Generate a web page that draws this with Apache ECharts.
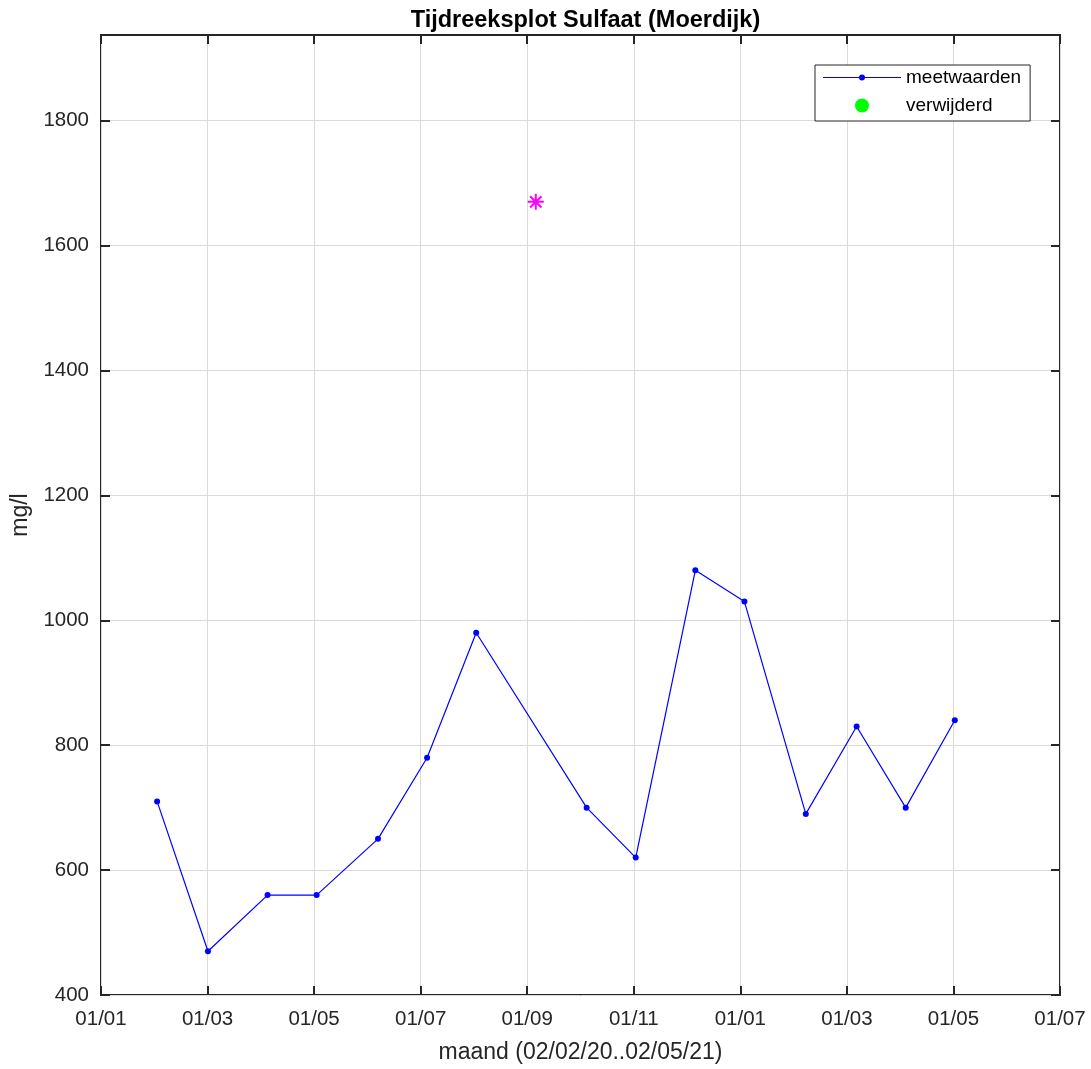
<!DOCTYPE html>
<html>
<head>
<meta charset="utf-8">
<script src="https://cdn.jsdelivr.net/npm/echarts@6/dist/echarts.min.js"></script>
<style>
html,body{margin:0;padding:0;background:#fff;}
#chart{width:1091px;height:1069px;}
</style>
</head>
<body>
<div id="chart"></div>
<script>
// ---- data ----
const measureDates = ['2020-02-02','2020-03-02','2020-04-05','2020-05-03','2020-06-07','2020-07-05','2020-08-02','2020-10-04','2020-11-01','2020-12-05','2021-01-02','2021-02-06','2021-03-07','2021-04-04','2021-05-02'];
const measureValues = [710, 470, 560, 560, 650, 780, 980, 700, 620, 1080, 1030, 690, 830, 700, 840];
const outlierDates = ['2020-09-05'];
const outlierValues = [1670];
const removedDates = [];
const removedValues = [];
const xTickLabels = ['01/01','01/03','01/05','01/07','01/09','01/11','01/01','01/03','01/05','01/07'];
const yTicks = [400, 600, 800, 1000, 1200, 1400, 1600, 1800];
const xRange = ['2020-01-01', '2021-07-01'];
const yRange = [400, 1937.2];

function ts(s) { const p = s.split('-').map(Number); return Date.UTC(p[0], p[1] - 1, p[2]); }
const xMin = ts(xRange[0]), xMax = ts(xRange[1]);
const xStep = (xMax - xMin) / (xTickLabels.length - 1);
const xTickValues = xTickLabels.map((_, i) => xMin + i * xStep);

const axisColor = '#262626';
const fontFam = '"Liberation Sans", Arial, Helvetica, sans-serif';

const chart = echarts.init(document.getElementById('chart'), null, {renderer: 'canvas'});
const lineIcon = 'path://M0,2.4 L78,2.4 L78,3.6 L0,3.6 Z M36,3 A3,3 0 1 1 42,3 A3,3 0 1 1 36,3 Z';

chart.setOption({
  animation: false,
  backgroundColor: '#ffffff',
  textStyle: {fontFamily: fontFam},
  title: {
    text: 'Tijdreeksplot Sulfaat (Moerdijk)',
    left: 580.5, top: 4, textAlign: 'center',
    textStyle: {fontFamily: fontFam, fontSize: 23.5, fontWeight: 'bold', color: '#000'}
  },
  grid: {left: 101, top: 35, width: 959, height: 960, outerBoundsMode: 'none', containLabel: false,
    show: true, borderColor: axisColor, borderWidth: 2, backgroundColor: '#fff'},
  legend: {
    orient: 'vertical', left: 815, top: 65,
    backgroundColor: '#fff', borderColor: axisColor, borderWidth: 1,
    padding: [3, 9, 6, 8], itemGap: 9, itemWidth: 78, itemHeight: 14,
    textStyle: {fontFamily: fontFam, fontSize: 19, color: '#000', lineHeight: 19},
    data: [
      {name: 'meetwaarden', icon: lineIcon, itemStyle: {color: '#0000ff', borderWidth: 0, opacity: 1}},
      {name: 'verwijderd', icon: 'circle', itemStyle: {color: '#00ff00', borderWidth: 0, opacity: 1}}
    ]
  },
  xAxis: [{
    type: 'value', min: xMin, max: xMax,
    name: 'maand (02/02/20..02/05/21)', nameLocation: 'middle', nameGap: 46,
    nameTextStyle: {fontFamily: fontFam, fontSize: 23, color: axisColor},
    axisLine: {show: false},
    axisTick: {show: true, inside: true, length: 9, customValues: xTickValues, lineStyle: {color: axisColor, width: 2}},
    axisLabel: {show: true, customValues: xTickValues, margin: 14, fontSize: 20.5, color: axisColor, fontFamily: fontFam,
      formatter: function (v) { return xTickLabels[Math.round((v - xMin) / xStep)]; }},
    splitLine: {show: true, lineStyle: {color: '#dadada', width: 1}}
  }, {
    type: 'value', min: xMin, max: xMax, position: 'top',
    axisLine: {show: false},
    axisTick: {show: true, inside: true, length: 9, customValues: xTickValues, lineStyle: {color: axisColor, width: 2}},
    axisLabel: {show: false},
    splitLine: {show: false}
  }],
  yAxis: [{
    type: 'value', min: yRange[0], max: yRange[1],
    name: 'mg/l', nameLocation: 'middle', nameGap: 59,
    nameTextStyle: {fontFamily: fontFam, fontSize: 23, color: axisColor},
    axisLine: {show: false},
    axisTick: {show: true, inside: true, length: 9, customValues: yTicks, lineStyle: {color: axisColor, width: 2}},
    axisLabel: {show: true, customValues: yTicks, margin: 12, fontSize: 20.5, color: axisColor, fontFamily: fontFam,
      formatter: function (v) { return String(v); }},
    splitLine: {show: true, lineStyle: {color: '#dadada', width: 1}}
  }, {
    type: 'value', min: yRange[0], max: yRange[1], position: 'right',
    axisLine: {show: false},
    axisTick: {show: true, inside: true, length: 9, customValues: yTicks, lineStyle: {color: axisColor, width: 2}},
    axisLabel: {show: false},
    splitLine: {show: false}
  }],
  series: [{
    name: 'meetwaarden', type: 'line',
    data: measureDates.map((d, i) => [ts(d), measureValues[i]]),
    symbol: 'circle', symbolSize: 6, showSymbol: true,
    lineStyle: {color: '#0000ff', width: 1.2},
    itemStyle: {color: '#0000ff'},
    z: 3
  }, {
    name: 'verwijderd', type: 'scatter',
    data: removedDates.map((d, i) => [ts(d), removedValues[i]]),
    symbol: 'circle', symbolSize: 13,
    itemStyle: {color: '#00ff00', opacity: 1}
  }, {
    name: 'uitschieter', type: 'scatter',
    data: outlierDates.map((d, i) => [ts(d), outlierValues[i]]),
    symbol: 'path://M0,-8 L0,8 M-8,0 L8,0 M-5.7,-5.7 L5.7,5.7 M-5.7,5.7 L5.7,-5.7',
    symbolSize: 16,
    itemStyle: {color: 'rgba(0,0,0,0)', borderColor: '#ff00ff', borderWidth: 2, opacity: 1},
    z: 4
  }]
});
</script>
</body>
</html>
